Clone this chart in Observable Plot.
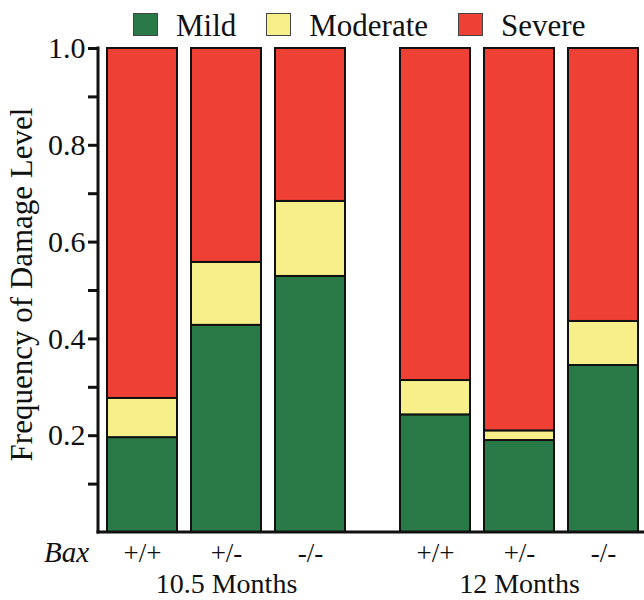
<!DOCTYPE html>
<html><head><meta charset="utf-8">
<script src="https://cdn.jsdelivr.net/npm/d3@7"></script>
<script src="https://cdn.jsdelivr.net/npm/@observablehq/plot@0.6"></script>
<style>
body{margin:0;overflow:hidden;background:#fff;}
#wrap{position:relative;width:644px;height:600px;overflow:hidden;}
#legend{position:absolute;left:133px;top:11px;display:flex;align-items:center;font-family:"Liberation Serif","DejaVu Serif","Times New Roman",Times,serif;font-size:31px;line-height:30px;color:#111;z-index:2;}
.sw{width:25px;height:23px;border:1.5px solid #444;box-sizing:border-box;margin-right:18px;position:relative;top:-2px;}
.item{display:flex;align-items:center;margin-right:30px;}
svg text{font-family:"Liberation Serif","DejaVu Serif","Times New Roman",Times,serif !important;}
</style></head>
<body><div id="wrap"><div id="legend"></div></div>
<script>
const groups = ["10.5 Months", "12 Months"];
const genotypes = ["+/+", "+/-", "-/-"];
const levels = ["Mild", "Moderate", "Severe"];
const colors = ["#2a7a48", "#f6ef8a", "#ee4035"];
// values per bar: 10.5 mo (+/+, +/-, -/-), 12 mo (+/+, +/-, -/-)
const mild     = [0.196, 0.428, 0.529, 0.243, 0.190, 0.345];
const moderate = [0.081, 0.130, 0.155, 0.071, 0.020, 0.091];
const severe   = [0.723, 0.442, 0.316, 0.686, 0.790, 0.564];
const yTicks = [0.2, 0.4, 0.6, 0.8, 1.0];
const yMinor = [0.1, 0.3, 0.5, 0.7, 0.9];
const genotypeLabel = "Bax";
const yLabel = "Frequency of Damage Level";

const series = [mild, moderate, severe];
const data = [];
groups.forEach((g, gi) => genotypes.forEach((gt, ti) => {
  levels.forEach((lv, li) => {
    data.push({group: g, genotype: gt, level: lv, value: series[li][gi * 3 + ti]});
  });
}));

const font = "Liberation Serif";
const plot = Plot.plot({
  width: 648,
  height: 600,
  marginLeft: 98,
  marginRight: 0,
  marginTop: 48,
  marginBottom: 68,
  style: {fontFamily: font, maxWidth: "none", background: "transparent", color: "#111"},
  fx: {domain: groups, paddingInner: 0.126, paddingOuter: 0, axis: null},
  x: {domain: genotypes, paddingInner: 0.1716, paddingOuter: 0.103},
  y: {domain: [0, 1]},
  color: {domain: levels, range: colors},
  marks: [
    Plot.barY(data, {fx: "group", x: "genotype", y: "value", fill: "level", stroke: "#111", strokeWidth: 2}),
    Plot.axisX({tickSize: 0, tickPadding: 10, fontSize: 27, label: null, fill: "#111", fontFamily: font}),
    Plot.axisY({ticks: yTicks, tickSize: 10, tickPadding: 3, tickFormat: d3.format(".1f"), fontSize: 30, strokeWidth: 3, label: null, stroke: "#111", fill: "#111", fontFamily: font}),
    Plot.axisY({ticks: yMinor, tickSize: 10, tickFormat: () => "", strokeWidth: 3, label: null, stroke: "#111"}),
    Plot.text(groups, {fx: d => d, text: d => d, frameAnchor: "bottom", lineAnchor: "middle", dy: 52, fontSize: 28, fill: "#111", fontFamily: font}),
    Plot.text([genotypeLabel], {fx: () => groups[0], text: d => d, frameAnchor: "bottom-left", lineAnchor: "middle", textAnchor: "middle", dx: -32, dy: 20, fontSize: 29, fontStyle: "italic", fill: "#111", fontFamily: font}),
    Plot.text([yLabel], {fx: () => groups[0], text: d => d, frameAnchor: "left", textAnchor: "middle", lineAnchor: "middle", rotate: -90, dx: -76, dy: -6, fontSize: 31, fill: "#111", fontFamily: font})
  ]
});

// axis lines drawn from the plot's own scales
const ys = plot.scale("y");
const svg = d3.select(plot);
const y0 = ys.apply(0), y1 = ys.apply(1);
svg.append("line").attr("x1", 98).attr("x2", 98).attr("y1", y1 - 1.5).attr("y2", y0 + 1.5)
  .attr("stroke", "#111").attr("stroke-width", 3);
svg.append("line").attr("x1", 96.5).attr("x2", 648).attr("y1", y0).attr("y2", y0)
  .attr("stroke", "#111").attr("stroke-width", 3);

document.getElementById("wrap").appendChild(plot);

const legend = d3.select("#legend");
levels.forEach((lv, i) => {
  const it = legend.append("div").attr("class", "item");
  it.append("div").attr("class", "sw").style("background", colors[i]);
  it.append("span").text(lv);
});
</script>
</body></html>
